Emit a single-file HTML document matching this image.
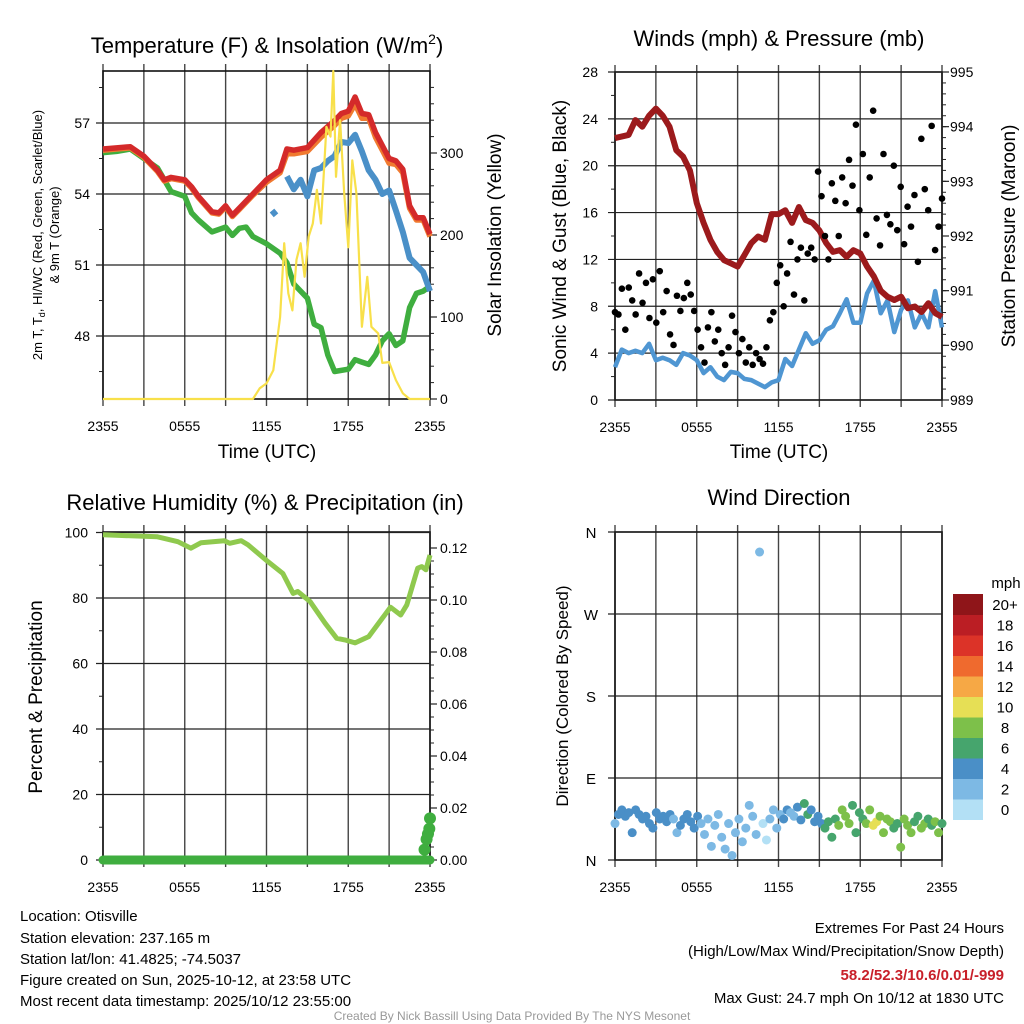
<!DOCTYPE html>
<html><head><meta charset="utf-8"><style>
body{margin:0;background:#fff}
svg{display:block;font-family:"Liberation Sans",Arial,sans-serif}
</style></head><body>
<svg id="s" width="1024" height="1024" viewBox="0 0 1024 1024">
<g id="layer"></g>
<text x="20" y="921" font-size="15">Location: Otisville</text>
<text x="20" y="943" font-size="15">Station elevation: 237.165 m</text>
<text x="20" y="964" font-size="15">Station lat/lon: 41.4825; -74.5037</text>
<text x="20" y="985" font-size="15">Figure created on Sun, 2025-10-12, at 23:58 UTC</text>
<text x="20" y="1006" font-size="15">Most recent data timestamp: 2025/10/12 23:55:00</text>
<text x="1004" y="933" font-size="15" text-anchor="end">Extremes For Past 24 Hours</text>
<text x="1004" y="956" font-size="15" text-anchor="end">(High/Low/Max Wind/Precipitation/Snow Depth)</text>
<text x="1004" y="980" font-size="15" font-weight="bold" fill="#c8202a" text-anchor="end">58.2/52.3/10.6/0.01/-999</text>
<text x="1004" y="1003" font-size="15" text-anchor="end">Max Gust: 24.7 mph On 10/12 at 1830 UTC</text>
<text x="512" y="1020" font-size="12" fill="#999" text-anchor="middle">Created By Nick Bassill Using Data Provided By The NYS Mesonet</text>
</svg>
<script>
// ---------- data ----------
const xTickLabels=["2355","0555","1155","1755","2355"];
const tempTicks=[48,51,54,57];
const solarTicks=[0,100,200,300];
const windTicks=[0,4,8,12,16,20,24,28];
const presTicks=[989,990,991,992,993,994,995];
const rhTicks=[0,20,40,60,80,100];
const precTicks=["0.00","0.02","0.04","0.06","0.08","0.10","0.12"];
const dirLabels=["N","E","S","W","N"];
const cbLabels=["0","2","4","6","8","10","12","14","16","18","20+"];
const cbColors=["#b3e0f5","#7db9e4","#4a8fc7","#46a56d","#7dc04a","#e6df55","#f6a845","#ef6a2e","#dc3328","#bb1e24","#8f1519"];

const tT=[0,1,2,3,4,4.5,5,6,6.5,7,8,8.5,9,9.5,10,11,12,13,13.5,14,15,16,17,17.5,18,18.5,19,19.5,20,21,21.5,22,22.5,23,23.5,24];
const tempRed=[55.9,55.95,56.0,55.6,55.0,54.6,54.7,54.6,54.3,53.9,53.25,53.2,53.5,53.1,53.4,54.0,54.6,55.0,55.9,55.85,55.96,56.6,57.1,57.4,57.5,58.1,57.4,57.35,56.6,55.5,55.4,55.05,53.5,53.0,53.0,52.3];
const temp9m=[55.85,55.9,55.95,55.55,54.95,54.55,54.65,54.55,54.25,53.85,53.2,53.15,53.45,53.05,53.35,53.95,54.5,54.9,55.7,55.7,55.8,56.4,56.9,57.2,57.3,57.8,57.2,57.2,56.4,55.3,55.25,54.9,53.4,52.9,52.9,52.2];
const tD=[0,1,2,3,4,5,6,6.5,7,8,9,9.5,10,10.5,11,12,13,13.5,14,15,15.5,16,16.5,17,18,18.5,19,19.5,20,20.5,21,21.5,22,22.5,23,23.5,24];
const dewpt=[55.75,55.8,55.9,55.5,55.1,54.1,53.9,53.2,52.9,52.4,52.6,52.25,52.55,52.6,52.2,51.9,51.5,51.1,50.2,49.6,48.5,48.35,47.2,46.5,46.6,47.0,46.9,46.8,47.2,47.8,48.1,47.6,47.8,49.2,49.8,49.9,50.1];
const tWC=[12.4,12.7,13.2,13.5,14,14.5,15,15.5,16,16.5,17,17.5,18,18.5,19,19.5,20,20.5,21,21.5,22,22.5,23,23.5,24];
const windChill=[53.3,53.1,null,54.75,54.2,54.6,53.9,55.0,55.1,55.4,55.6,56.2,56.15,56.5,55.8,55.0,54.6,54.0,54.15,53.3,52.4,51.3,51.0,50.7,49.9];
const tS=[0,11,11.5,12,12.5,13,13.3,13.6,13.9,14.2,14.5,14.8,15.1,15.4,15.7,16,16.4,16.7,16.9,17.1,17.4,17.7,18.0,18.3,18.6,19.0,19.4,19.7,20.2,20.5,21,21.5,22,22.5,24];
const solar=[0,0,13,19,35,100,190,129,108,170,190,149,198,214,255,214,332,320,410,271,340,251,185,291,251,88,149,88,80,44,45,23,7,0,0];

const windSpd=[2.8,4.3,4.0,4.2,4.0,4.8,3.4,3.6,3.4,3.0,4.0,3.8,3.4,2.3,2.8,2.0,1.7,2.4,2.3,1.8,1.7,1.4,1.1,1.5,1.7,3.5,2.9,4.3,5.7,4.8,5.1,6.0,6.3,7.4,8.6,6.6,6.6,9.1,10.2,7.4,8.5,5.8,7.7,8.5,6.2,7.4,6.2,9.3,6.2];
const gusts=[7.5,7.3,9.5,6,9.6,8.5,7.3,10.8,8.3,10,7,10.3,6.6,11,7.5,9.3,5.6,4.7,8.9,7.6,8.7,10,9,7.6,6,4.5,3.2,6.2,7.5,5,6,4,3,4.5,7.2,5.8,4,5.2,3.2,4.5,3,4,3.5,3.1,4.5,6.8,7.5,10,11.5,8,10.8,13.5,9,12,13,8.5,12.5,13,12,19.5,17.4,14,12,18.5,17,14,19,16.8,20.5,18.3,23.5,16.2,21,14.1,19,24.7,15.5,13.2,21,15.8,15,20,14.5,18.2,13.3,16.5,14.8,17.5,11.8,22.3,18,16.2,23.4,12.8,14.8,17.2];
const presT=[0,1,1.5,2,2.5,3,3.5,4,4.5,5,5.5,6,6.5,7,7.5,8,8.5,9,9.5,10,10.5,11,11.5,12,12.5,13,13.5,14,14.5,15,15.5,16,16.5,17,17.5,18,18.5,19,19.5,20,20.5,21,21.5,22,22.5,23,23.5,24];
const pressure=[993.79,993.85,994.12,994.0,994.2,994.33,994.2,994.0,993.57,993.45,993.2,992.6,992.24,991.93,991.71,991.56,991.5,991.44,991.65,991.87,991.99,991.93,992.4,992.4,992.47,992.24,992.53,992.29,992.24,992.1,991.87,991.71,991.74,991.62,991.74,991.68,991.44,991.26,991.0,990.89,990.83,990.89,990.68,990.71,990.61,990.77,990.59,990.52];

const rhT=[0,4,5.5,6.45,7.2,8.9,9.3,10.15,10.65,12.1,13.2,13.95,14.3,15.2,16.3,17.15,17.75,18.5,19.5,20.5,21.1,21.85,22.3,23.1,23.4,23.7,24];
const rh=[99.3,98.7,97.2,95.2,96.9,97.5,96.7,97.5,96.2,91.1,87.5,81.4,82,78.9,72.3,67.7,67.2,66.3,68.2,73.8,77.2,74.8,77.9,89.1,89.6,88.6,93.1];
const precT=[23.6,23.75,23.85,23.95,24];
const precip=[0.004,0.008,0.01,0.012,0.016];

const windDir=[40,50,55,48,52,30,55,50,45,48,40,35,52,45,48,42,50,45,30,38,45,50,42,35,48,40,28,45,15,38,50,25,12,40,5,30,45,20,35,60,48,28,338,40,22,45,55,35,50,45,55,52,48,58,44,62,50,55,42,48,40,35,42,25,45,38,55,48,40,60,30,52,45,40,55,38,42,48,30,45,42,35,40,14,45,38,30,42,48,35,40,45,38,42,30,40];

// ---------- drawing ----------
const NS="http://www.w3.org/2000/svg";
const L=document.getElementById('layer');
function el(tag,attrs,parent){const e=document.createElementNS(NS,tag);for(const k in attrs)e.setAttribute(k,attrs[k]);(parent||L).appendChild(e);return e;}
function txt(x,y,s,size,anchor,rot){const e=el('text',{x:x,y:y,'font-size':size,'text-anchor':anchor||'middle'});if(rot)e.setAttribute('transform','rotate(-90 '+x+' '+y+')');e.textContent=s;return e;}
function lin(a,b,c,d,w,col){return el('line',{x1:a,y1:b,x2:c,y2:d,stroke:col||'#222','stroke-width':w||1});}
function pathOf(xs,ys,sx,sy){let d='';let pen=false;for(let i=0;i<xs.length;i++){if(ys[i]==null){pen=false;continue;}d+=(pen?'L':'M')+sx(xs[i]).toFixed(1)+' '+sy(ys[i]).toFixed(1);pen=true;}return d;}

function panel(P,name){
  const g=el('g',{});
  
  
  for(let i=0;i<=8;i++){const x=P.x0+i*(P.x1-P.x0)/8;const l=lin(x,P.y0-7,x,P.y1+7,1.4,'#444');g.appendChild(l);
    }
  el('rect',{x:P.x0,y:P.y0,width:P.x1-P.x0,height:P.y1-P.y0,fill:'none',stroke:'#111','stroke-width':1.6},g);
  xTickLabels.forEach((s,i)=>{const t=txt(P.x0+i*(P.x1-P.x0)/4,P.y1+32,s,14);g.appendChild(t);
    });
  return g;
}
function hgrid(P,y){const l=lin(P.x0-7,y,P.x1,y,1.2,'#222');}

// ===== Panel 1: temperature =====
const P1={x0:103,x1:430,y0:71,y1:399};
panel(P1,'temperature-panel');
const sx1=t=>P1.x0+t/24*(P1.x1-P1.x0);
const syT=v=>123+(57-v)*23.67;
const syS=v=>399-v*0.82;
tempTicks.forEach(v=>{hgrid(P1,syT(v));const t=txt(90,syT(v)+5,String(v),14,'end');});
[46.5,49.5,52.5,55.5,58.5].forEach(v=>lin(P1.x0-4,syT(v),P1.x0,syT(v),1));
solarTicks.forEach(v=>{lin(P1.x1,syS(v),P1.x1+7,syS(v),1.2);const t=txt(440,syS(v)+5,String(v),14,'start');});
for(let v=20;v<400;v+=20)if(v%100)lin(P1.x1,syS(v),P1.x1+4,syS(v),1);
let e;
e=el('path',{d:pathOf(tD,dewpt,sx1,syT),fill:'none',stroke:'#3fae3f','stroke-width':5.5,'stroke-linejoin':'round'});
e=el('path',{d:pathOf(tWC,windChill,sx1,syT),fill:'none',stroke:'#4a90c8','stroke-width':6,'stroke-linejoin':'round'});
e=el('path',{d:pathOf(tT,temp9m,sx1,syT),fill:'none',stroke:'#f07a30','stroke-width':5.5,'stroke-linejoin':'round'});
e=el('path',{d:pathOf(tT,tempRed,sx1,syT),fill:'none',stroke:'#d42a2a','stroke-width':5.5,'stroke-linejoin':'round'});
const clipS=v=>Math.min(v,400);
e=el('path',{d:pathOf(tS,solar.map(clipS),sx1,syS),fill:'none',stroke:'#f8e04a','stroke-width':2.2,'stroke-linejoin':'round'});
e=txt(267,53,'',22);e.innerHTML='Temperature (F) &amp; Insolation (W/m<tspan font-size="14" dy="-9">2</tspan><tspan dy="9">)</tspan>';
e=txt(267,458,'Time (UTC)',19);
e=txt(42,235,'',13,'middle',true);e.innerHTML='2m T, T<tspan font-size="9" dy="3">d</tspan><tspan dy="-3">, HI/WC (Red, Green, Scarlet/Blue)</tspan>';
e=txt(59,235,'& 9m T (Orange)',13,'middle',true);
e=txt(501,235,'Solar Insolation (Yellow)',19,'middle',true);

// ===== Panel 2: winds =====
const P2={x0:615,x1:942,y0:72,y1:400};
panel(P2,'winds-panel');
const sx2=t=>P2.x0+t/24*(P2.x1-P2.x0);
const syW=v=>400-v*(328/28);
const syP=v=>400-(v-989)*(328/6);
windTicks.forEach(v=>{hgrid(P2,syW(v));const t=txt(598,syW(v)+5,String(v),14,'end');});
for(let v=2;v<28;v+=4)lin(P2.x0-4,syW(v),P2.x0,syW(v),1);
presTicks.forEach(v=>{lin(P2.x1,syP(v),P2.x1+7,syP(v),1.2);const t=txt(950,syP(v)+5,String(v),14,'start');});
for(let v=989.2;v<995;v+=0.2)lin(P2.x1,syP(v),P2.x1+4,syP(v),1);
e=el('path',{d:pathOf(windSpd.map((v,i)=>i*0.5),windSpd,sx2,syW),fill:'none',stroke:'#4f96d2','stroke-width':4.5,'stroke-linejoin':'round'});
e=el('path',{d:pathOf(presT,pressure,sx2,syP),fill:'none',stroke:'#9c1a1c','stroke-width':6,'stroke-linejoin':'round'});
gusts.forEach((v,i)=>{const c=el('circle',{cx:sx2(i*24/(gusts.length-1)),cy:syW(v),r:3.3,fill:'#000'});
  });
e=txt(779,46,'Winds (mph) & Pressure (mb)',22);
e=txt(779,458,'Time (UTC)',19);
e=txt(566,236,'Sonic Wind & Gust (Blue, Black)',19,'middle',true);
e=txt(1015,236,'Station Pressure (Maroon)',19,'middle',true);

// ===== Panel 3: RH =====
const P3={x0:103,x1:430,y0:532,y1:860};
panel(P3,'humidity-panel');
const sx3=t=>P3.x0+t/24*(P3.x1-P3.x0);
const syR=v=>860-v*3.275;
const syQ=v=>860-v*(312/0.12);
rhTicks.forEach(v=>{hgrid(P3,syR(v));const t=txt(88,syR(v)+5,String(v),14,'end');});
for(let v=10;v<100;v+=20)lin(P3.x0-4,syR(v),P3.x0,syR(v),1);
precTicks.forEach(s=>{const v=parseFloat(s);lin(P3.x1,syQ(v),P3.x1+7,syQ(v),1.2);const t=txt(440,syQ(v)+5,s,14,'start');});
for(let v=0.005;v<0.125;v+=0.005)lin(P3.x1,syQ(v),P3.x1+4,syQ(v),1);
e=el('path',{d:pathOf(rhT,rh,sx3,syR),fill:'none',stroke:'#8fc94e','stroke-width':5,'stroke-linejoin':'round'});
e=el('path',{d:'M'+sx3(0)+' '+syQ(0)+'L'+sx3(24)+' '+syQ(0),stroke:'#3fae3f','stroke-width':9,'stroke-linecap':'round'});
precip.forEach((v,i)=>{const c=el('circle',{cx:sx3(precT[i]),cy:syQ(v),r:6,fill:'#3fae3f'});
  });
e=txt(265,510,'Relative Humidity (%) & Precipitation (in)',22);
e=txt(42,697,'Percent & Precipitation',19,'middle',true);

// ===== Panel 4: wind direction =====
const P4={x0:615,x1:942,y0:532,y1:860};
panel(P4,'wind-direction-panel');
const sx4=t=>P4.x0+t/24*(P4.x1-P4.x0);
const syD=v=>860-v*(328/360);
dirLabels.forEach((s,i)=>{const y=syD(i*90);hgrid(P4,y);const t=txt(591,y+6,s,15);});
windDir.forEach((v,i)=>{const t=i*24/(windDir.length-1);const k=Math.min(48,Math.round(t*2));
  const ci=Math.max(0,Math.min(10,Math.floor((windSpd[k]+0.6)/2)));
  const c=el('circle',{cx:sx4(t),cy:syD(v),r:4.5,fill:cbColors[ci]});
  });
e=txt(779,505,'Wind Direction',22);
e=txt(568,696,'Direction (Colored By Speed)',17,'middle',true);
e=txt(1006,588,'mph',15);
const cbTop=594,cbH=20.5;
cbLabels.forEach((s,i)=>{const j=10-i;const y=cbTop+j*cbH;
  const r=el('rect',{x:953,y:y,width:30,height:cbH+0.5,fill:cbColors[i]});
  
  const t=txt(1005,y+cbH/2+5.5,s,15);});
</script>
</body></html>
